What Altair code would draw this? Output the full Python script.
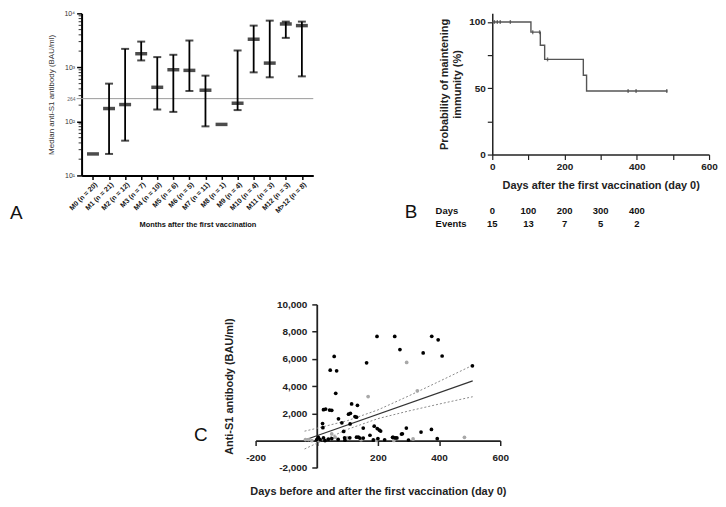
import altair as alt
import pandas as pd

FONT = "Liberation Sans"

# ---------------- Panel A data ----------------
months = ["M0 (n = 20)", "M1 (n = 21)", "M2 (n = 12)", "M3 (n = 7)", "M4 (n = 10)",
          "M5 (n = 6)", "M6 (n = 5)", "M7 (n = 11)", "M8 (n = 1)", "M9 (n = 4)",
          "M10 (n = 4)", "M11 (n = 3)", "M12 (n = 3)", "M>12 (n = 8)"]
medians = [25, 173, 205, 1790, 428, 905, 880, 378, 88, 217, 3320, 1200, 6360, 5930]
lows = [None, 25, 44, 1345, 166, 150, 366, 81, None, 162, 809, 655, 3515, 682]
highs = [None, 500, 2200, 3000, 1550, 1710, 3140, 703, None, 2055, 5930, 7330, 7030, 7030]
threshold = [264]
decades = [10, 100, 1000, 10000]

# ---------------- Panel B data ----------------
km_days = [0, 107, 133, 145, 252, 261, 485]
km_surv = [100, 92.3, 82.4, 71.8, 59.8, 47.9, 47.9]
censor_days = [6, 14, 22, 50, 112, 131, 153, 376, 398, 483]
censor_surv = [100, 100, 100, 100, 92.3, 92.3, 71.8, 47.9, 47.9, 47.9]
table_days = [0, 100, 200, 300, 400]
table_events = [15, 13, 7, 5, 2]

# ---------------- Panel C data ----------------
black_days = [197, 255, 376, 397, 272, 348, 410, 509, 57, 44, 65, 163, 62,
              22, 29, 42, 49, 114, 133, 104, 110, 125, 130, 71, 82, 19, 20, 109,
              152, 188, 198, 205, 209, 293, 341, 375, 280, 88, 174, 136, 152, 91,
              250, 257, 277, 394, 222, 200,
              0, 5, 11, 22, 27, 38, 49, 70, 92, 108, 130, 141, 185, 248, 262, 300]
black_vals = [7650, 7650, 7660, 7400, 6680, 6440, 6210, 5490, 6180, 5170, 5120, 5710, 3470,
              2270, 2310, 2240, 2220, 2690, 2590, 1940, 2000, 1760, 1720, 1600, 1300, 1250, 950, 1220,
              920, 1060, 880, 760, 700, 920, 620, 820, 500, 670, 390, 260, 180, 200,
              240, 190, 480, 140, 60, 150,
              70, 240, 70, 190, 0, 100, 150, 80, 30, 200, 250, 180, 50, 240, 190, 40]
gray_days = [294, 168, 329, 483, 315, 252, 49, -37, -27, -16, 5, 60, 100, 145, 195]
gray_vals = [5740, 3230, 3650, 240, 120, 10, 490, 70, 70, 0, 30, 250, 200, 60, 20]
reg_days = [-37, 510]
reg_vals = [60, 4380]
ci_days = [-40, 0, 100, 200, 300, 400, 510]
ci_upper = [690, 900, 1460, 2250, 3270, 4340, 5530]
ci_lower = [-620, -200, 820, 1610, 2170, 2680, 3220]

one = pd.DataFrame({"k": [0]})

# ======================= Panel A =======================
WA, HA = 233, 163
dfA = pd.DataFrame({"cat": months, "med": medians, "lo": lows, "hi": highs})
xA_scale = alt.Scale(type="point", padding=0.71)
xA_axis = alt.Axis(title="Months after the first vaccination", labelAngle=-45,
                   labelFontSize=7, labelFontWeight="bold", labelColor="#111",
                   titleFontSize=7.5, titleFontWeight="bold", titleColor="#111",
                   tickSize=4, tickWidth=1.5, domainWidth=2, labelPadding=1,
                   titlePadding=7, domainColor="black", tickColor="black")
yA_scale = alt.Scale(type="log", domain=[10, 10000], nice=False)
yA_axis = alt.Axis(values=decades,
                   labelExpr="datum.value==10?'10¹':datum.value==100?'10²':datum.value==1000?'10³':'10⁴'",
                   title="Median anti-S1 antibody (BAU/ml)", titleFontWeight="normal",
                   titleFontSize=8, titleColor="#333", labelFontSize=7, labelColor="#333",
                   grid=False, tickSize=5, tickWidth=1.5, domainWidth=2, titlePadding=8,
                   domainColor="black", tickColor="black", labelPadding=2, labelFlush=False)


def xA():
    return alt.X("cat:N", sort=months, scale=xA_scale, axis=xA_axis)


def yA(field):
    return alt.Y(field, type="quantitative", scale=yA_scale, axis=yA_axis)


bars = alt.Chart(dfA).mark_rule(color="black", strokeWidth=1.8).encode(
    x=xA(), y=yA("lo"), y2="hi")
caps_lo = alt.Chart(dfA).mark_tick(color="black", size=8, thickness=2).encode(x=xA(), y=yA("lo"))
caps_hi = alt.Chart(dfA).mark_tick(color="black", size=8, thickness=2).encode(x=xA(), y=yA("hi"))
med = alt.Chart(dfA).mark_tick(color="black", size=12, thickness=3.5).encode(x=xA(), y=yA("med"))

dfT = pd.DataFrame({"v": threshold, "lab": [str(t) for t in threshold]})
thr = alt.Chart(dfT).mark_rule(color="#9a9a9a", strokeWidth=1).encode(
    y=yA("v"), x=alt.value(-5), x2=alt.value(WA))
thr_lab = alt.Chart(dfT).mark_text(align="right", baseline="middle", fontSize=5,
                                   color="#666", font=FONT).encode(
    y=yA("v"), x=alt.value(-6), text="lab:N")

minor_vals = [m * 10 ** k for k in range(1, 4) for m in range(2, 10)]
dfMinor = pd.DataFrame({"v": minor_vals})
minor = alt.Chart(dfMinor).mark_rule(color="black", strokeWidth=0.8).encode(
    y=yA("v"), x=alt.value(-3), x2=alt.value(0))

letterA = alt.Chart(one).mark_text(align="left", baseline="middle", fontSize=19,
                                   font=FONT, color="#111").encode(
    x=alt.value(-72), y=alt.value(201), text=alt.value("A"))

chartA = alt.layer(thr, minor, bars, caps_lo, caps_hi, med, thr_lab, letterA).properties(
    width=WA, height=HA)

# ======================= Panel B =======================
WB, HB = 218, 142
dfKM = pd.DataFrame({"day": km_days, "surv": km_surv})
dfC = pd.DataFrame({"day": censor_days, "surv": censor_surv})
xB_scale = alt.Scale(domain=[0, 600], nice=False)
xB_axis = alt.Axis(values=[0, 100, 200, 300, 400, 500, 600],
                   labelExpr="datum.value % 200 == 0 ? datum.label : ''",
                   title="Days after the first vaccination (day 0)",
                   labelFontSize=10, labelFontWeight="bold", titleFontSize=11,
                   titleFontWeight="bold", labelColor="#222", titleColor="#222",
                   grid=False, tickSize=5, tickWidth=1.2, domainWidth=1.5, labelFlush=False,
                   domainColor="#222", tickColor="#222", labelPadding=2, titlePadding=8)
yB_scale = alt.Scale(domain=[0, 106.5], nice=False)
yB_axis = alt.Axis(values=[0, 25, 50, 75, 100],
                   labelExpr="datum.value % 50 == 0 ? datum.label : ''",
                   title=["Probability of maintening", "immunity (%)"],
                   labelFontSize=10, labelFontWeight="bold", titleFontSize=11,
                   titleFontWeight="bold", labelColor="#222", titleColor="#222",
                   grid=False, tickSize=5, tickWidth=1.2, domainWidth=1.5, labelFlush=False,
                   domainColor="#222", tickColor="#222", labelPadding=2, titlePadding=6)

km = alt.Chart(dfKM).mark_line(interpolate="step-after", color="#555", strokeWidth=1.4).encode(
    x=alt.X("day:Q", scale=xB_scale, axis=xB_axis),
    y=alt.Y("surv:Q", scale=yB_scale, axis=yB_axis))
cens = alt.Chart(dfC).mark_tick(orient="vertical", size=4, thickness=1.4, color="#444").encode(
    x=alt.X("day:Q", scale=xB_scale, axis=xB_axis),
    y=alt.Y("surv:Q", scale=yB_scale, axis=yB_axis))

dfTab = pd.DataFrame({"day": table_days, "ev": [str(e) for e in table_events],
                      "d": [str(d) for d in table_days]})
tab_days = alt.Chart(dfTab).mark_text(align="center", baseline="middle", fontSize=9.5,
                                      fontWeight="bold", font=FONT, color="#111").encode(
    x=alt.X("day:Q", scale=xB_scale, axis=xB_axis), y=alt.value(198.5), text="d:N")
tab_ev = alt.Chart(dfTab).mark_text(align="center", baseline="middle", fontSize=9.5,
                                    fontWeight="bold", font=FONT, color="#111").encode(
    x=alt.X("day:Q", scale=xB_scale, axis=xB_axis), y=alt.value(211.5), text="ev:N")
lab_days = alt.Chart(one).mark_text(align="left", baseline="middle", fontSize=9.5,
                                    fontWeight="bold", font=FONT, color="#111").encode(
    x=alt.value(-57), y=alt.value(198.5), text=alt.value("Days"))
lab_ev = alt.Chart(one).mark_text(align="left", baseline="middle", fontSize=9.5,
                                  fontWeight="bold", font=FONT, color="#111").encode(
    x=alt.value(-57), y=alt.value(211.5), text=alt.value("Events"))
letterB = alt.Chart(one).mark_text(align="left", baseline="middle", fontSize=19,
                                   font=FONT, color="#111").encode(
    x=alt.value(-88), y=alt.value(200), text=alt.value("B"))

chartB = alt.layer(km, cens, tab_days, tab_ev, lab_days, lab_ev, letterB).properties(
    width=WB, height=HB)

# ======================= Panel C =======================
WC, HC = 246, 164.3
xC_scale = alt.Scale(domain=[-200, 600], nice=False)
yC_scale = alt.Scale(domain=[-2000, 10000], nice=False)
xC_axis = alt.Axis(values=[-200, 0, 200, 400, 600],
                   labelExpr="datum.value == 0 ? '' : replace(datum.label, '−', '-')",
                   offset=-HC / 6, title="Days before and after the first vaccination (day 0)",
                   labelFontSize=10, labelFontWeight="bold", titleFontSize=11,
                   titleFontWeight="bold", labelColor="#222", titleColor="#222",
                   grid=False, tickSize=5, tickWidth=1.5, domainWidth=1.8, labelFlush=False,
                   domainColor="#222", tickColor="#222", labelPadding=7, titlePadding=23)
yC_axis = alt.Axis(values=[-2000, 0, 2000, 4000, 6000, 8000, 10000],
                   labelExpr="datum.value == 0 ? '' : replace(format(datum.value, ','), '−', '-')",
                   offset=-WC / 4, title="Anti-S1 antibody (BAU/ml)",
                   labelFontSize=10, labelFontWeight="bold", titleFontSize=11,
                   titleFontWeight="bold", labelColor="#222", titleColor="#222",
                   grid=False, tickSize=5, tickWidth=1.5, domainWidth=1.8, labelFlush=False,
                   domainColor="#222", tickColor="#222", labelPadding=5, titlePadding=42)


def xC(field):
    return alt.X(field, type="quantitative", scale=xC_scale, axis=xC_axis)


def yC(field):
    return alt.Y(field, type="quantitative", scale=yC_scale, axis=yC_axis)


dfBlack = pd.DataFrame({"day": black_days, "val": black_vals})
dfGray = pd.DataFrame({"day": gray_days, "val": gray_vals})
dfReg = pd.DataFrame({"day": reg_days, "val": reg_vals})
dfCI = pd.DataFrame({"day": ci_days, "up": ci_upper, "lo": ci_lower})

pts_gray = alt.Chart(dfGray).mark_circle(size=14, color="#a8a8a8", opacity=1).encode(
    x=xC("day"), y=yC("val"))
pts_black = alt.Chart(dfBlack).mark_circle(size=14, color="#000", opacity=1).encode(
    x=xC("day"), y=yC("val"))
reg = alt.Chart(dfReg).mark_line(color="#333", strokeWidth=1.2).encode(x=xC("day"), y=yC("val"))
ci_u = alt.Chart(dfCI).mark_line(color="#8a8a8a", strokeWidth=1, strokeDash=[2, 2]).encode(
    x=xC("day"), y=yC("up"))
ci_l = alt.Chart(dfCI).mark_line(color="#8a8a8a", strokeWidth=1, strokeDash=[2, 2]).encode(
    x=xC("day"), y=yC("lo"))
letterC = alt.Chart(one).mark_text(align="left", baseline="middle", fontSize=19,
                                   font=FONT, color="#111").encode(
    x=alt.value(-62), y=alt.value(131), text=alt.value("C"))

chartC = alt.layer(ci_u, ci_l, reg, pts_gray, pts_black, letterC).properties(width=WC, height=HC)

spacer = alt.Chart(one).mark_rule(opacity=0).encode(
    x=alt.value(0), y=alt.value(0), y2=alt.value(1)).properties(width=174.7, height=10)

top = alt.hconcat(chartA, chartB, spacing=180, bounds="flush")
bottom = alt.hconcat(spacer, chartC, spacing=0, bounds="flush")

chart = alt.vconcat(top, bottom, spacing=70.7).properties(
    padding={"left": 2, "top": 0, "right": 0, "bottom": 0}
).configure(font=FONT).configure_view(strokeWidth=0, stroke=None).configure_axis(
    labelFont=FONT, titleFont=FONT)

chart.save("out.html", embed_options={"renderer": "svg", "actions": False})
